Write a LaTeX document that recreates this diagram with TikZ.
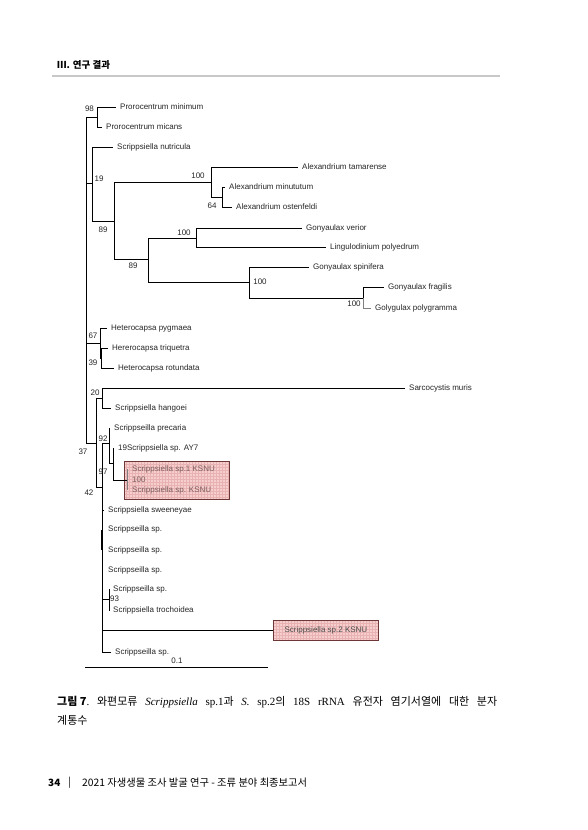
\documentclass[tikz,border=0pt]{standalone}
\usepackage{fontspec}
\setmainfont{Liberation Sans}
\newfontfamily\kr{Noto Sans CJK KR}
\newfontfamily\lserif{Liberation Serif}
\usetikzlibrary{patterns}
\definecolor{boxfill}{RGB}{246,206,206}
\definecolor{boxgrid}{RGB}{232,178,178}
\definecolor{boxline}{RGB}{110,55,55}
\definecolor{boxtext}{RGB}{125,95,95}
\definecolor{rulegray}{RGB}{200,200,200}
\newcommand{\capsp}{\hskip 3pt plus 1fil\relax}
\begin{document}
\begin{tikzpicture}[x=1pt,y=-1pt,
  br/.style={line width=0.75pt, black},
  grbr/.style={line width=0.75pt, gray},
  tip/.style={anchor=west, inner xsep=4pt, inner ysep=0pt, font=\fontsize{8}{9}\selectfont, text height=5.8pt, text depth=1.2pt, text=black!85},
  bs/.style={font=\fontsize{8}{9}\selectfont, inner sep=0pt, text=black!85},
  kbox/.style={draw=boxline, line width=0.8pt, preaction={fill=boxfill}, pattern=grid, pattern color=boxgrid},
  kr/.style={anchor=west, inner sep=0pt}
]
\fill[white] (0,0) rectangle (587,830);
\useasboundingbox (0,0) rectangle (587,830);

% header
\node[kr] (hdr) at (57,65) {\kr\bfseries\fontsize{9.5}{11}\selectfont Ⅲ. 연구 결과};
\draw[rulegray, line width=2pt] (52,75.5) -- (500,75.5);

% internal nodes
\coordinate (root) at (86.5,117);
\coordinate (n98) at (97,117);
\coordinate (n19) at (92,183);
\coordinate (n89a) at (114,221);
\coordinate (n100a) at (211,182);
\coordinate (n64) at (222,197);
\coordinate (n89b) at (148,259);
\coordinate (n100b) at (196,238);
\coordinate (n100c) at (249,282);
\coordinate (n100d) at (363,298);
\coordinate (n67) at (100,343);
\coordinate (n39) at (101,358);
\coordinate (n37) at (96,443);
\coordinate (n20) at (102,398);
\coordinate (n42) at (102,487);
\coordinate (n92) at (109,443);
\coordinate (n97) at (113,463);
\coordinate (n100e) at (127,480);
\coordinate (n93) at (109,599);
\coordinate (nsa) at (101,530);
\coordinate (nsb) at (101,550);

% boxes
\node[kbox, minimum width=105pt, minimum height=38pt, inner sep=0pt] (box1) at (176.5,480) {};
\node[kbox, anchor=west, minimum width=105pt, minimum height=20pt, inner sep=0pt, font=\fontsize{8}{9}\selectfont, text=black!70] (box2) at (273,630) {Scrippsiella sp.2 KSNU};

% tips
\node[tip] (t1) at (116,107) {Prorocentrum minimum};
\node[tip] (t2) at (102,127) {Prorocentrum micans};
\node[tip] (t3) at (113,147) {Scrippsiella nutricula};
\node[tip] (t4) at (298,167) {Alexandrium tamarense};
\node[tip] (t5) at (225,187) {Alexandrium minututum};
\node[tip] (t6) at (232,207) {Alexandrium ostenfeldi};
\node[tip] (t7) at (302,228) {Gonyaulax verior};
\node[tip] (t8) at (326,247) {Lingulodinium polyedrum};
\node[tip] (t9) at (309,267) {Gonyaulax spinifera};
\node[tip] (t10) at (384,287) {Gonyaulax fragilis};
\node[tip] (t11) at (371,308) {Golygulax polygramma};
\node[tip] (t12) at (107,328) {Heterocapsa pygmaea};
\node[tip] (t13) at (108,348) {Hererocapsa triquetra};
\node[tip] (t14) at (114,368) {Heterocapsa rotundata};
\node[tip] (t15) at (405,388) {Sarcocystis muris};
\node[tip] (t16) at (111,408) {Scrippsiella hangoei};
\node[tip] (t17) at (110,428) {Scrippseilla precaria};
\node[tip] (t18) at (114,448) {19Scrippsiella sp. AY7};
\node[tip, inner xsep=5pt, text=boxtext] (t19) at (127,469) {Scrippsiella sp.1 KSNU};
\node[bs, anchor=west, text=boxtext] (b100e) at (132,479.5) {100};
\node[tip, inner xsep=5pt, text=boxtext] (t20) at (127,490) {Scrippsiella sp. KSNU};
\node[tip] (t21) at (104,510) {Scrippsiella sweeneyae};
\node[tip] (t22) at (104,529) {Scrippseilla sp.};
\node[tip] (t23) at (104,550) {Scrippseilla sp.};
\node[tip] (t24) at (104,570) {Scrippseilla sp.};
\node[tip, inner xsep=3pt] (t25) at (110,589) {Scrippseilla sp.};
\node[tip, inner xsep=3pt] (t26) at (110,610) {Scrippsiella trochoidea};
\node[tip] (t27) at (111,652) {Scrippseilla sp.};

% branches
\draw[br] (root) |- (n98) (root) |- (n19) (root) |- (n67) (root) |- (n37);
\draw[br] (n98) |- (t1.west) (n98) |- (t2.west);
\draw[br] (n19) |- (t3.west) (n19) |- (n89a);
\draw[br] (n89a) |- (n100a) (n89a) |- (n89b);
\draw[br] (n100a) |- (t4.west) (n100a) |- (n64);
\draw[br] (n64) |- (t5.west) (n64) |- (t6.west);
\draw[br] (n89b) |- (n100b) (n89b) |- (n100c);
\draw[br] (n100b) |- (t7.west) (n100b) |- (t8.west);
\draw[br] (n100c) |- (t9.west) (n100c) |- (n100d);
\draw[br] (n100d) |- (t10.west);
\draw[grbr] (n100d) |- (t11.west);
\draw[br] (n67) |- (t12.west) (n67) |- (n39);
\draw[br] (n39) |- (t13.west) (n39) |- (t14.west);
\draw[br] (n37) |- (n20) (n37) |- (n42);
\draw[br] (n20) |- (t15.west) (n20) |- (t16.west);
\draw[br] (n42) |- (n92) (n42) |- (t21.west) (n42) |- (n93) (n42) |- (box2.west) (n42) |- (t27.west);
\draw[br] (nsa) -- (nsb);
\draw[br] (n92) |- (t17.west) (n92) |- (n97);
\draw[br] (n97) |- (t18.west) (n97) |- (n100e);
\draw[grbr] (n100e) |- (t19.west) (n100e) |- (t20.west);
\draw[br] (n93) |- (t25.west) (n93) |- (t26.west);

% bootstrap values
\node[bs] (b98) at (89.5,109) {98};
\node[bs] (b19) at (99,179) {19};
\node[bs] (b89a) at (103,230) {89};
\node[bs] (b100a) at (198,176) {100};
\node[bs] (b64) at (212,206) {64};
\node[bs] (b100b) at (184,233) {100};
\node[bs] (b89b) at (133,266) {89};
\node[bs] (b100c) at (260,282) {100};
\node[bs] (b100d) at (354,304) {100};
\node[bs] (b67) at (93,336) {67};
\node[bs] (b39) at (93,363) {39};
\node[bs] (b20) at (95,393) {20};
\node[bs] (b92) at (103,438.5) {92};
\node[bs] (b37) at (83,452) {37};
\node[bs] (b97) at (103,472) {97};
\node[bs] (b42) at (89,493) {42};
\node[bs, anchor=west] (b93) at (110,599) {93};

% scale bar
\coordinate (sb1) at (85,667);
\coordinate (sb2) at (268,667);
\draw[br] (sb1) -- (sb2);
\node[bs] (sbl) at (177,661) {0.1};

% caption
\node[kr] (cap1) at (57,702) {\fontsize{11}{13}\selectfont\hbox to 440pt{\kr\bfseries 그림 7\normalfont\lserif.\capsp\kr 와편모류\capsp\lserif\itshape Scrippsiella\upshape\capsp sp.1\kr 과\capsp\lserif\itshape S.\upshape\capsp sp.2\kr 의\capsp\lserif 18S\capsp rRNA\capsp\kr 유전자\capsp 염기서열에\capsp 대한\capsp 분자}};
\node[kr] (cap2) at (57,720) {\fontsize{11}{13}\selectfont\kr 계통수};

% footer
\node[kr] (pg) at (48,783) {\kr\bfseries\fontsize{10}{12}\selectfont 34};
\node[kr] (bar) at (68,783) {\kr\fontsize{10}{12}\selectfont |};
\node[kr] (ftr) at (82,783) {\kr\fontsize{10.3}{12}\selectfont 2021 자생생물 조사 발굴 연구 - 조류 분야 최종보고서};
\end{tikzpicture}
\end{document}
